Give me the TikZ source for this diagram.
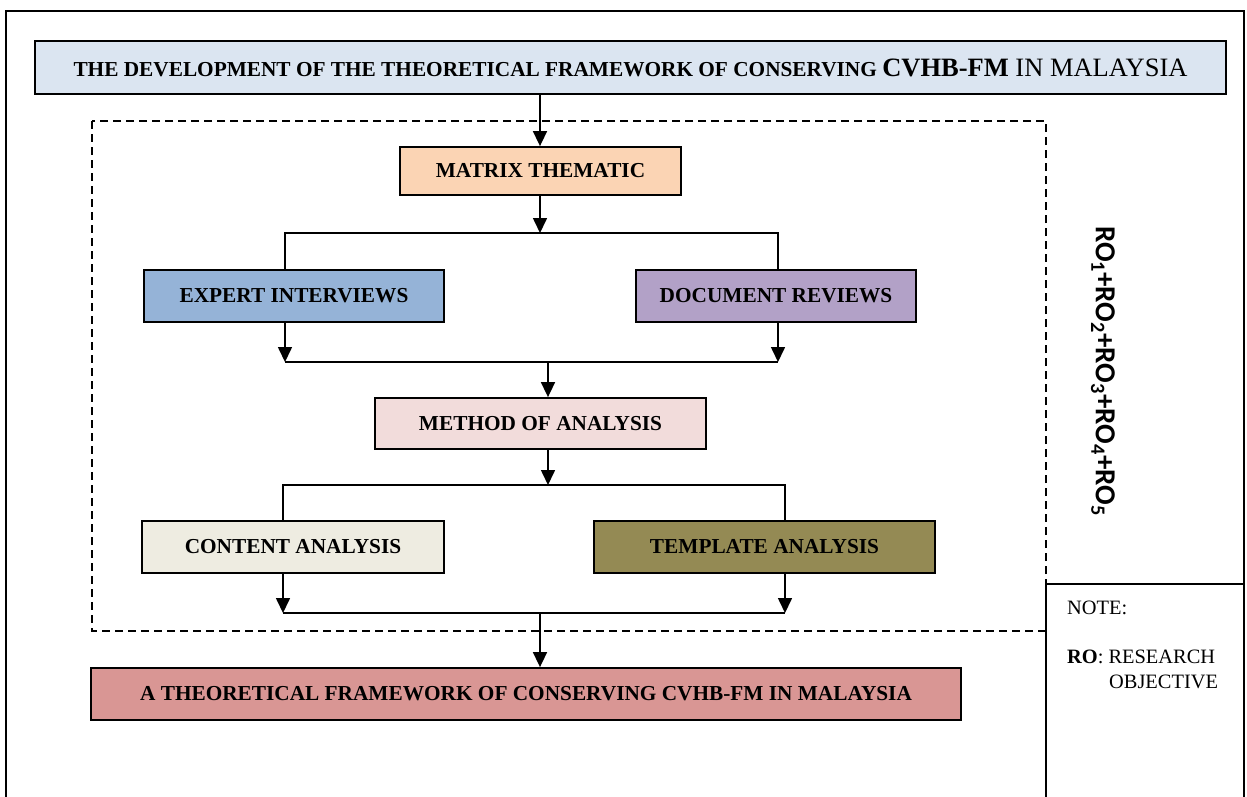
\documentclass[tikz,border=0pt]{standalone}
\usepackage{fontspec}
\setmainfont{Liberation Serif}
\newfontfamily\rofont{Carlito}
\usetikzlibrary{arrows.meta}
\definecolor{titlefill}{HTML}{DBE5F1}
\definecolor{matrixfill}{HTML}{FBD4B4}
\definecolor{expertfill}{HTML}{95B3D7}
\definecolor{docfill}{HTML}{B2A1C7}
\definecolor{methodfill}{HTML}{F2DCDB}
\definecolor{contentfill}{HTML}{EEECE1}
\definecolor{templatefill}{HTML}{948A54}
\definecolor{finalfill}{HTML}{D99694}
\tikzset{
  box/.style={draw, line width=1.8pt, inner sep=0pt,
    font=\bfseries\fontsize{21.3}{25}\selectfont},
  link/.style={line width=1.6pt},
  arr/.style={link, -{Triangle[width=14pt,length=15pt]}},
  frame/.style={line width=1.5pt},
  dashbox/.style={line width=1.4pt, dash pattern=on 8pt off 5pt},
  notetext/.style={anchor=base west, inner sep=0pt, font=\fontsize{20.4}{24}\selectfont}
}
\begin{document}
\begin{tikzpicture}[x=1pt,y=-1pt]
\useasboundingbox (0,0) rectangle (1247,796);

% outer frame and note panel
\draw[frame] (6,800) -- (6,11) -- (1244,11) -- (1244,800);
\draw[frame] (1046,800) -- (1046,584) -- (1244,584);

% dashed grouping box
\draw[dashbox] (92,121) rectangle (1046,631);

% boxes
\node[box, fill=titlefill, minimum width=1191pt, minimum height=53pt] (title) at (630.5,67.5)
  {\fontsize{21.3}{25}\selectfont THE DEVELOPMENT OF THE THEORETICAL FRAMEWORK OF CONSERVING
   \fontsize{26.5}{30}\selectfont CVHB-FM \mdseries IN MALAYSIA};
\node[box, fill=matrixfill, minimum width=281pt, minimum height=48pt] (matrix) at (540.5,171) {MATRIX THEMATIC};
\node[box, fill=expertfill, minimum width=300pt, minimum height=52pt] (expert) at (294,296) {EXPERT INTERVIEWS};
\node[box, fill=docfill, minimum width=280pt, minimum height=52pt] (docs) at (776,296) {DOCUMENT REVIEWS};
\node[box, fill=methodfill, minimum width=331pt, minimum height=51pt] (method) at (540.5,423.5) {METHOD OF ANALYSIS};
\node[box, fill=contentfill, minimum width=302pt, minimum height=52pt] (content) at (293,547) {CONTENT ANALYSIS};
\node[box, fill=templatefill, minimum width=341pt, minimum height=52pt] (template) at (764.5,547) {TEMPLATE ANALYSIS};
\node[box, fill=finalfill, minimum width=870pt, minimum height=52pt] (final) at (526,694) {A THEORETICAL FRAMEWORK OF CONSERVING CVHB-FM IN MALAYSIA};

% branch and join points
\coordinate (c0) at (540,0);
\coordinate (s1) at (540,233);
\coordinate (s1L) at (285,233);
\coordinate (s1R) at (778,233);
\coordinate (j1L) at (285,362);
\coordinate (j1R) at (778,362);
\coordinate (j1) at (548,362);
\coordinate (s2) at (548,485);
\coordinate (s2L) at (283,485);
\coordinate (s2R) at (785,485);
\coordinate (j2L) at (283,613);
\coordinate (j2R) at (785,613);
\coordinate (j2) at (540,613);

% connectors
\draw[arr] (c0 |- title.south) -- (c0 |- matrix.north);
\draw[arr] (c0 |- matrix.south) -- (s1);
\draw[link] (s1L |- expert.north) -- (s1L) -- (s1R) -- (s1R |- docs.north);
\draw[arr] (s1L |- expert.south) -- (j1L);
\draw[arr] (s1R |- docs.south) -- (j1R);
\draw[link] (j1L) -- (j1R);
\draw[arr] (j1) -- (j1 |- method.north);
\draw[arr] (j1 |- method.south) -- (s2);
\draw[link] (s2L |- content.north) -- (s2L) -- (s2R) -- (s2R |- template.north);
\draw[arr] (s2L |- content.south) -- (j2L);
\draw[arr] (s2R |- template.south) -- (j2R);
\draw[link] (j2L) -- (j2R);
\draw[arr] (j2) -- (j2 |- final.north);

% research objectives label
\node[rotate=-90, inner sep=0pt, font=\rofont\bfseries\fontsize{29}{32}\selectfont] (ro) at (1103,371)
  {RO\textsubscript{1}+RO\textsubscript{2}+RO\textsubscript{3}+RO\textsubscript{4}+RO\textsubscript{5}};

% note
\node[notetext] (note) at (1067,614) {NOTE:};
\node[notetext] (rokey) at (1067,663) {\textbf{RO}: RESEARCH};
\node[notetext] (roobj) at (1109,688) {OBJECTIVE};
\end{tikzpicture}
\end{document}
